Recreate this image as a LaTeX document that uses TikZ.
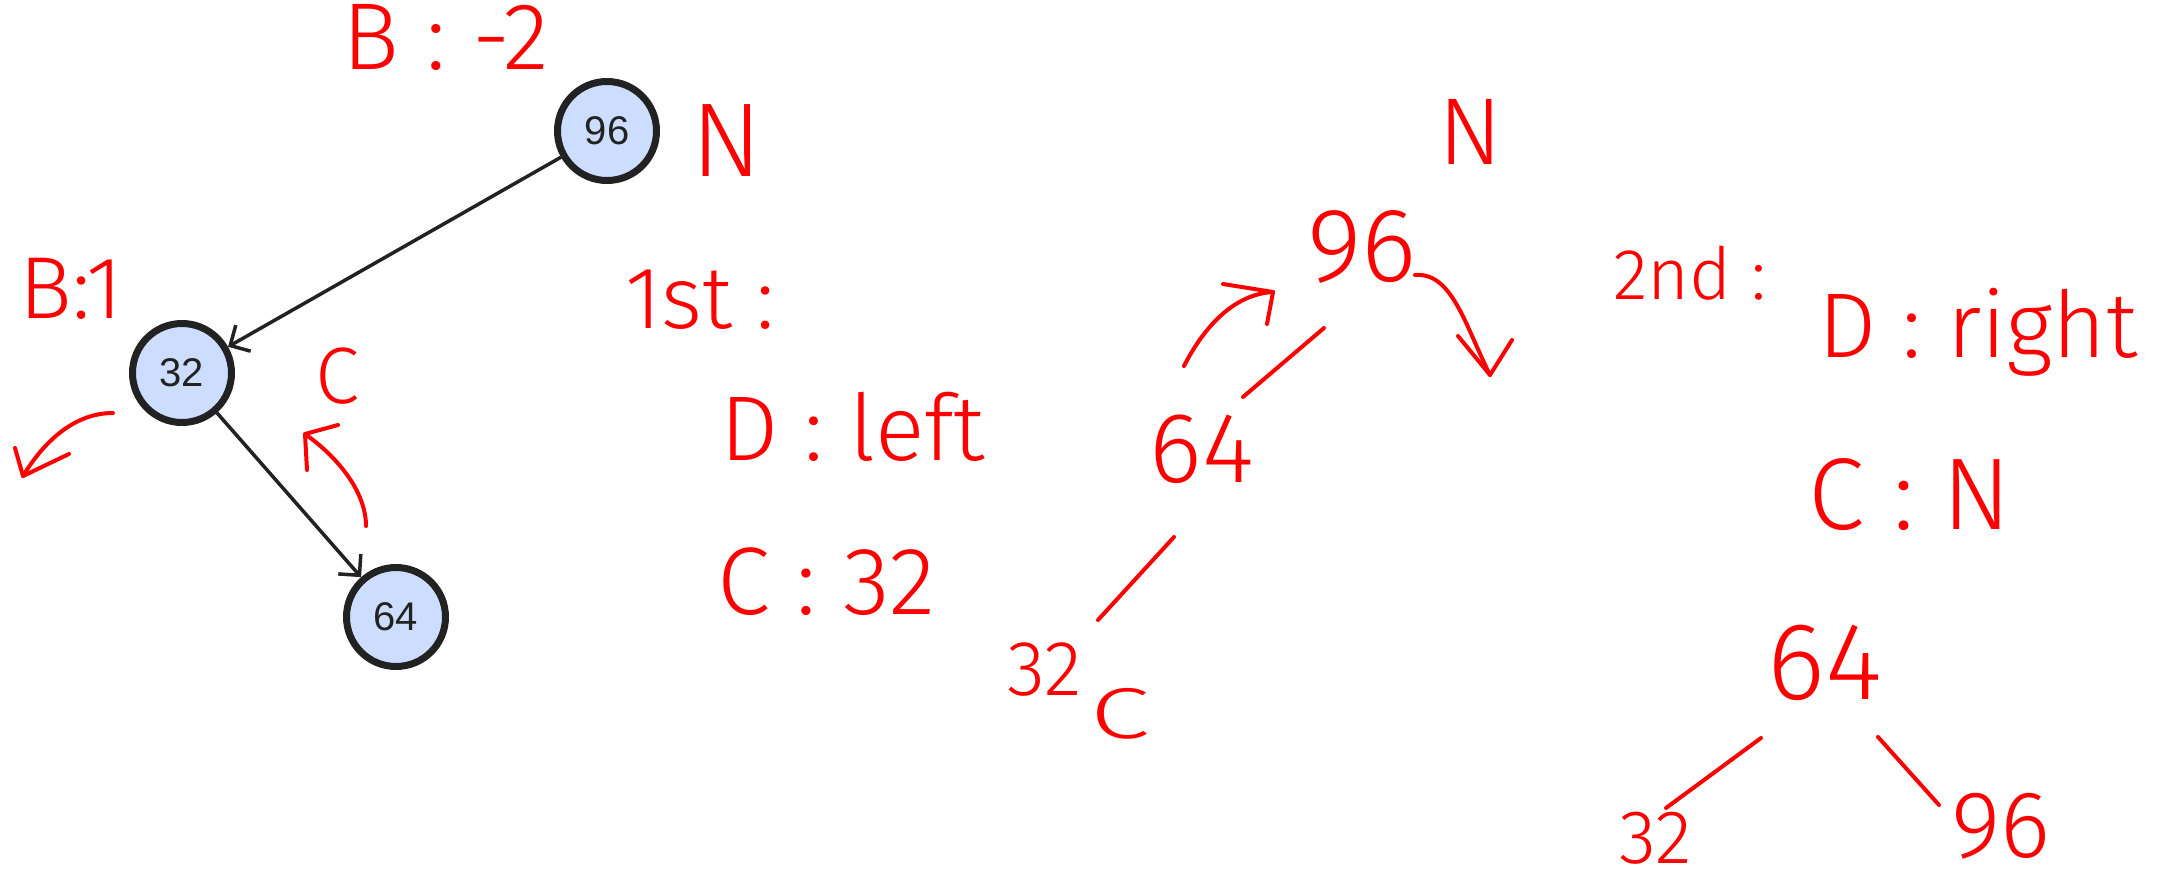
\documentclass[tikz,border=0pt]{standalone}
\usepackage{fontspec}
\usepackage{graphicx}
\usetikzlibrary{arrows.meta,calc}
\newfontfamily\arialfont{Liberation Sans}
\newfontfamily\handfont{Fira Sans Light}
\definecolor{nodeblue}{RGB}{204,221,255}
\definecolor{nodeline}{RGB}{34,34,34}
\definecolor{handred}{RGB}{255,0,0}
\newcommand{\hsz}[1]{\fontsize{#1}{#1}\selectfont}

\begin{document}
\begin{tikzpicture}[x=1pt,y=-1pt,
  treenode/.style={circle, draw=nodeline, line width=7pt, fill=nodeblue,
    minimum size=99pt, inner sep=0pt, text=nodeline, font=\arialfont\hsz{40}},
  treeedge/.style={draw=nodeline, line width=3.5pt,
    -{Straight Barb[length=15pt,width=30pt]}},
  hand/.style={text=handred, inner sep=0pt, font=\handfont\hsz{#1}},
  hand/.default=85,
  pen/.style={draw=handred, line width=4pt, line cap=round, line join=round}]
  \fill[white] (0,0) rectangle (2184,880);
  \useasboundingbox (0,0) rectangle (2184,880);

  % AVL tree before rotation
  \node[treenode] (n96) at (607,131) {96};
  \node[treenode] (n32) at (182,373) {32};
  \node[treenode] (n64) at (396,617) {64};
  \draw[treeedge] (n96) -- (n32);
  \draw[treeedge] (n32) -- (n64);

  % balance and role notes
  \node[hand=95] (bal96) at (446,37) {B :\ -2};
  \node[hand=105] (roleN) at (727,141) {N};
  \node[hand=88] (bal32) at (71,289) {B:1};
  \node[hand=80] (roleC) at (337,376) {C};

  % rotation hints next to the tree
  \draw[pen] (113,413) .. controls (70,413) and (40,448) .. (23,476);
  \draw[pen] (15,448) -- (23,476) -- (69,454);
  \draw[pen] (366,526) .. controls (366,490) and (335,455) .. (305,434);
  \draw[pen] (307,470) -- (305,434) -- (338,425);

  % 1st rotation
  \node[hand=88] (first) at (700,300) {1st :};
  \node[hand=92] (dleft) at (853,427) {D : left};
  \node[hand=96] (cval) at (826,582) {C : 32};

  \node[hand=95] (midN) at (1470,132) {N};
  \node[hand=105] (mid96) at (1362,247) {96};
  \node[hand=100] (mid64) at (1202,449) {64};
  \node[hand=78] (mid32) at (1045,670) {32};
  \node[hand=72] (midC) at (1120,714) {\scalebox{1.5}[1]{C}};
  \draw[pen] ($(mid96)+(-38,81)$) -- ($(mid64)+(41,-52)$);
  \draw[pen] ($(mid64)+(-28,88)$) -- ($(mid32)+(53,-50)$);
  \draw[pen] (1184,366) .. controls (1205,325) and (1235,294) .. (1273,292);
  \draw[pen] (1223,284) -- (1273,292) -- (1267,324);
  \draw[pen] (1415,275) .. controls (1452,272) and (1465,325) .. (1490,375);
  \draw[pen] (1458,336) -- (1490,375) -- (1512,340);

  % 2nd rotation
  \node[hand=72] (second) at (1690,273) {2nd :};
  \node[hand=92] (dright) at (1978,332) {D : right};
  \node[hand=102] (cnode) at (1910,495) {C : N};

  \node[hand=110] (res64) at (1825,663) {64};
  \node[hand=76] (res32) at (1656,838) {32};
  \node[hand=95] (res96) at (2001,826) {96};
  \draw[pen] ($(res64)+(-64,75)$) -- ($(res32)+(10,-30)$);
  \draw[pen] ($(res64)+(53,74)$) -- ($(res96)+(-62,-21)$);
\end{tikzpicture}
\end{document}
